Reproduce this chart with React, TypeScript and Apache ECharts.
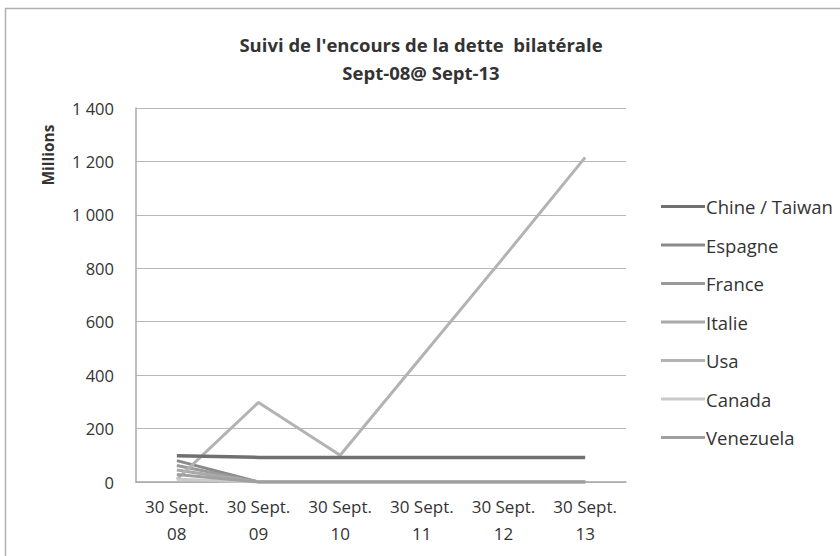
import React, { useEffect, useRef } from "react";
import * as echarts from "echarts";

const categories = ["30 Sept.\n08", "30 Sept.\n09", "30 Sept.\n10", "30 Sept.\n11", "30 Sept.\n12", "30 Sept.\n13"];
const seriesNames = ["Chine / Taiwan", "Espagne", "France", "Italie", "Usa", "Canada", "Venezuela"];
const chine = [98, 92, 92, 92, 92, 92];
const espagne = [80, 0, 0, 0, 0, 0];
const france = [62, 0, 0, 0, 0, 0];
const italie = [45, 0, 0, 0, 0, 0];
const usa = [10, 298, 100, 470, 840, 1215];
const canada = [10, 0, 0, 0, 0, 0];
const venezuela = [28, 0, 0, 0, 0, 0];
const seriesColors = ["#707070", "#8a8a8a", "#9a9a9a", "#a9a9a9", "#b3b3b3", "#c9c9c9", "#a0a0a0"];
const yTicks = { min: 0, max: 1400, interval: 200 };

const FONT = "'Open Sans', sans-serif";

export default function App() {
  const ref = useRef<HTMLDivElement>(null);
  useEffect(() => {
    if (!ref.current) return;
    const chart = echarts.init(ref.current, null, { renderer: "svg" });
    const dataSets = [chine, espagne, france, italie, usa, canada, venezuela];
    chart.setOption({
      animation: false,
      backgroundColor: "#ffffff",
      title: {
        text: "Suivi de l'encours de la dette  bilatérale\nSept-08@ Sept-13",
        left: 416,
        textAlign: "center",
        top: 25,
        textStyle: { fontFamily: FONT, fontSize: 18.5, fontWeight: "bold", color: "#333", lineHeight: 28 },
      },
      graphic: [
        {
          type: "rect",
          shape: { x: 5.5, y: 8.5, width: 850, height: 560 },
          style: { fill: "none", stroke: "#b0b0b0", lineWidth: 1.5 },
          silent: true,
        },
        {
          type: "text",
          x: 48,
          y: 155,
          rotation: Math.PI / 2,
          style: {
            text: "Millions",
            fontFamily: FONT,
            fontSize: 15.5,
            fontWeight: "bold",
            fill: "#333",
            align: "center",
            verticalAlign: "middle",
          },
          silent: true,
        },
      ],
      legend: {
        orient: "vertical",
        left: 656,
        top: 192,
        itemWidth: 44,
        itemHeight: 3,
        itemGap: 19.5,
        icon: "rect",
        data: seriesNames,
        textStyle: { fontFamily: FONT, fontSize: 18.5, color: "#333", lineHeight: 18.5, padding: [0, 0, 0, -4] },
      },
      grid: { left: 136, right: 214, top: 108, bottom: 74 },
      xAxis: {
        type: "category",
        data: categories,
        boundaryGap: true,
        axisLine: { lineStyle: { color: "#a8a8a8", width: 1.5 } },
        axisTick: { show: false },
        axisLabel: { fontFamily: FONT, fontSize: 17, color: "#333", lineHeight: 27, margin: 11, interval: 0 },
      },
      yAxis: {
        type: "value",
        min: yTicks.min,
        max: yTicks.max,
        interval: yTicks.interval,
        axisLine: { show: true, lineStyle: { color: "#a8a8a8", width: 1.5 } },
        axisTick: { show: false },
        splitLine: { lineStyle: { color: "#b8b8b8", width: 1 } },
        axisLabel: {
          fontFamily: FONT,
          fontSize: 16.5,
          color: "#333",
          margin: 22,
          formatter: (v: number) => (v >= 1000 ? `${Math.floor(v / 1000)} ${String(v % 1000).padStart(3, "0")}` : String(v)),
        },
      },
      series: seriesNames.map((name, i) => ({
        name,
        type: "line",
        data: dataSets[i],
        symbol: "none",
        color: seriesColors[i],
        lineStyle: { width: i === 0 ? 3.5 : 3, color: seriesColors[i] },
        z: i === 0 ? 10 : 2 + i,
      })),
    });
    return () => chart.dispose();
  }, []);
  return <div ref={ref} style={{ width: 840, height: 556, position: "absolute", left: 0, top: 0 }} />;
}
